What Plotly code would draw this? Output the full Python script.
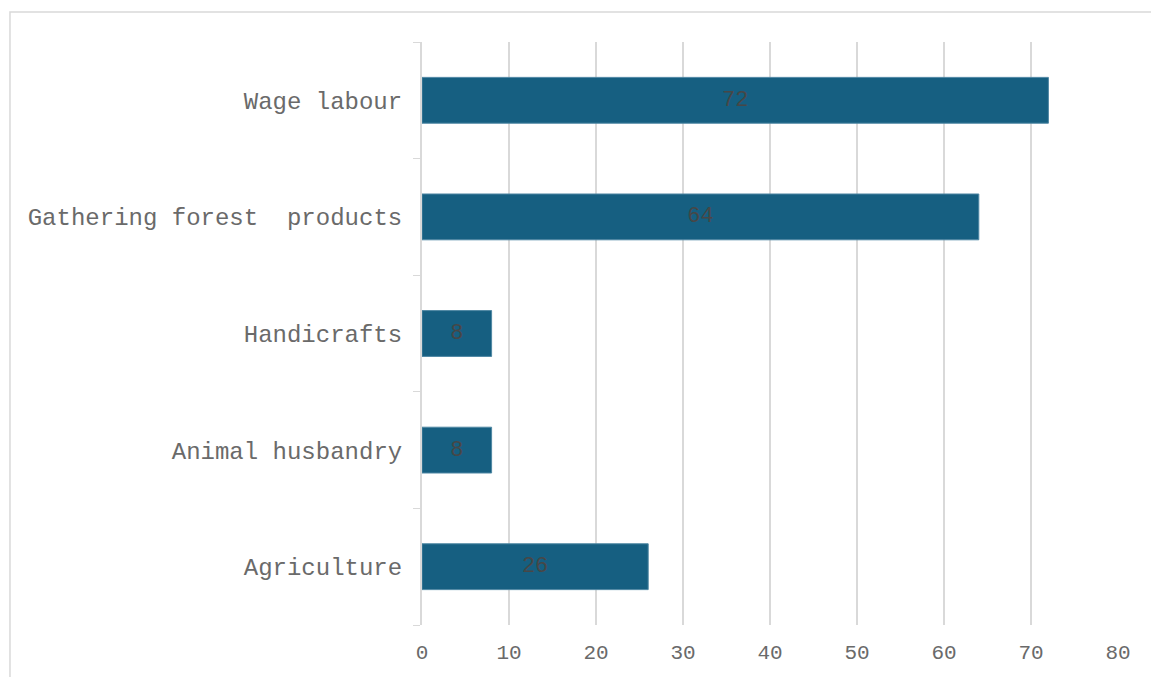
import plotly.graph_objects as go

# Livelihood sources (bottom to top as drawn)
categories = ["Agriculture", "Animal husbandry", "Handicrafts",
              "Gathering forest  products", "Wage labour"]
values = [26, 8, 8, 64, 72]
x_ticks = [0, 10, 20, 30, 40, 50, 60, 70, 80]

BAR = "#165F81"
GRID = "#D9D9D9"
LABEL = "#6A6A6A"
FONT = "Liberation Mono, Courier New, monospace"

fig = go.Figure(
    go.Bar(
        y=categories,
        x=values,
        orientation="h",
        marker=dict(color=BAR, line=dict(color="#4F87A3", width=1)),
        text=values,
        texttemplate="%{x}",
        textposition="inside",
        insidetextanchor="middle",
        textangle=0,
        constraintext="none",
        textfont=dict(family=FONT, size=22, color="#474747"),
        hoverinfo="skip",
    )
)

# light outer frame around the chart area
fig.add_shape(
    type="rect", xref="paper", yref="paper",
    x0=-0.592, x1=1.06, y0=-0.108, y1=1.0513,
    line=dict(color=GRID, width=1.5), fillcolor="rgba(0,0,0,0)", layer="below",
)

fig.update_layout(
    width=1151,
    height=677,
    margin=dict(l=422, r=33, t=42, b=50),
    paper_bgcolor="white",
    plot_bgcolor="white",
    bargap=0.607,
    showlegend=False,
    font=dict(family=FONT, color=LABEL),
    xaxis=dict(
        range=[0, 80],
        tickvals=x_ticks,
        showgrid=True,
        gridcolor=GRID,
        gridwidth=2,
        zeroline=False,
        showline=False,
        ticks="",
        tickfont=dict(family=FONT, size=21, color=LABEL),
        ticklabelstandoff=12,
        fixedrange=True,
    ),
    yaxis=dict(
        categoryorder="array",
        categoryarray=categories,
        range=[-0.5, 4.5],
        showgrid=False,
        zeroline=False,
        showline=True,
        linecolor=GRID,
        linewidth=2,
        ticks="outside",
        tickson="boundaries",
        ticklen=7,
        tickwidth=1,
        tickcolor=GRID,
        tickfont=dict(family=FONT, size=24, color=LABEL),
        ticklabelstandoff=13,
        fixedrange=True,
    ),
)

fig.write_html("out.html")
